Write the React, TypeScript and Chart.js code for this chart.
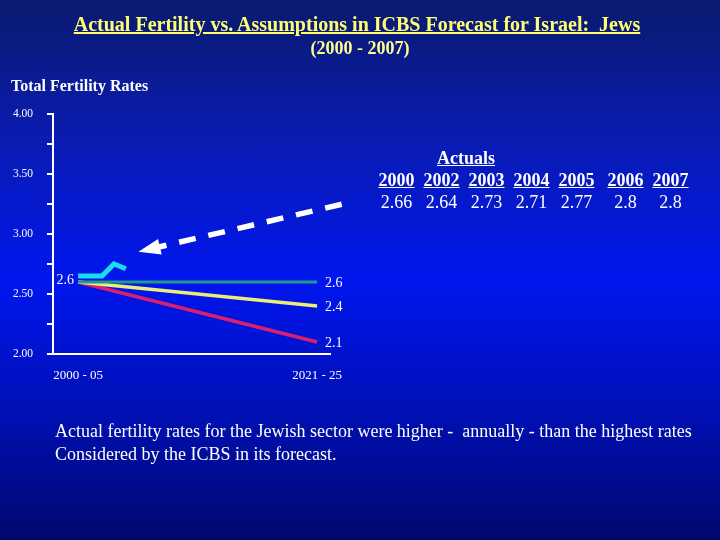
import React, { useEffect, useRef } from "react";
import { Chart, registerables } from "chart.js";

Chart.register(...registerables);

// x positions: 0 = "2000 - 05", 1 = "2021 - 25"
const periodLabels = ["2000 - 05", "2021 - 25"];
const periodX = [0, 1];

const highForecast = [2.6, 2.6];
const mediumForecast = [2.6, 2.4];
const lowForecast = [2.6, 2.1];

// hand-drawn actuals trace at the start of the chart
const actualTraceX = [0, 0.1, 0.15, 0.2];
const actualTraceY = [2.65, 2.65, 2.75, 2.71];

// dashed arrow (from right to left)
const arrowX = [1.103, 0.334];
const arrowY = [3.248, 2.89];

const yTicks = [2.0, 2.5, 3.0, 3.5, 4.0];

const actualYears = ["2000", "2002", "2003", "2004", "2005", "2006", "2007"];
const actualValues = ["2.66", "2.64", "2.73", "2.71", "2.77", "2.8", "2.8"];

const SERIF = '"Liberation Serif", "Times New Roman", serif';

const labelPlugin = {
  id: "endLabels",
  afterDatasetsDraw(chart: Chart) {
    const ctx = chart.ctx;
    ctx.save();
    ctx.font = `14px ${SERIF}`;
    ctx.fillStyle = "#ffffff";
    ctx.textBaseline = "middle";
    // forecast end values
    [1, 2, 3].forEach((i) => {
      const meta = chart.getDatasetMeta(i);
      const last = meta.data[meta.data.length - 1];
      const v = (chart.data.datasets[i].data as any[])[1].y;
      ctx.textAlign = "left";
      ctx.fillText(String(v), last.x + 8, last.y + 1);
    });
    // start value
    const m = chart.getDatasetMeta(1);
    const first = m.data[0];
    const v0 = (chart.data.datasets[1].data as any[])[0].y;
    ctx.textAlign = "right";
    ctx.fillText(String(v0), first.x - 4, first.y - 2);

    // arrow head
    const am = chart.getDatasetMeta(4);
    const p0 = am.data[0];
    const p1 = am.data[1];
    const dx = p1.x - p0.x;
    const dy = p1.y - p0.y;
    const len = Math.hypot(dx, dy);
    const ux = dx / len;
    const uy = dy / len;
    const tipX = p1.x + ux * 20;
    const tipY = p1.y + uy * 20;
    const bx = p1.x - ux * 2;
    const by = p1.y - uy * 2;
    ctx.fillStyle = "#ffffff";
    ctx.beginPath();
    ctx.moveTo(tipX, tipY);
    ctx.lineTo(bx - uy * 8, by + ux * 8);
    ctx.lineTo(bx + uy * 8, by - ux * 8);
    ctx.closePath();
    ctx.fill();
    ctx.restore();
  },
};

const toPoints = (xs: number[], ys: number[]) => xs.map((x, i) => ({ x, y: ys[i] }));

const App: React.FC = () => {
  const canvasRef = useRef<HTMLCanvasElement>(null);

  useEffect(() => {
    if (!canvasRef.current) return;
    const ctx = canvasRef.current.getContext("2d")!;

    const chart = new Chart(ctx, {
      type: "line",
      data: {
        datasets: [
          {
            label: "Actual",
            data: toPoints(actualTraceX, actualTraceY),
            borderColor: "#19dcf0",
            borderWidth: 5,
            pointRadius: 0,
            borderJoinStyle: "miter",
          },
          {
            label: "High",
            data: toPoints(periodX, highForecast),
            borderColor: "#1f9a8c",
            borderWidth: 3,
            pointRadius: 0,
          },
          {
            label: "Medium",
            data: toPoints(periodX, mediumForecast),
            borderColor: "#ecec78",
            borderWidth: 3.5,
            pointRadius: 0,
          },
          {
            label: "Low",
            data: toPoints(periodX, lowForecast),
            borderColor: "#d91f70",
            borderWidth: 3.5,
            pointRadius: 0,
          },
          {
            label: "Arrow",
            data: toPoints(arrowX, arrowY),
            borderColor: "#ffffff",
            borderWidth: 5.5,
            borderDash: [17, 13],
            pointRadius: 0,
            clip: false as any,
          },
        ],
      },
      options: {
        animation: false,
        responsive: true,
        maintainAspectRatio: false,
        layout: { padding: { left: 0, right: 390, top: 114, bottom: 156 } },
        plugins: {
          legend: { display: false },
          tooltip: { enabled: false },
        },
        scales: {
          x: {
            type: "linear",
            min: -0.105,
            max: 1.054,
            afterFit: (scale: any) => {
              scale.height = 30;
            },
            afterBuildTicks: (scale: any) => {
              scale.ticks = periodX.map((v) => ({ value: v }));
            },
            ticks: {
              color: "#ffffff",
              font: { family: SERIF, size: 13 },
              padding: 14,
              maxRotation: 0,
              callback: (v: any) => periodLabels[periodX.indexOf(Number(v))] ?? "",
            },
            grid: { drawOnChartArea: false, drawTicks: false },
            border: { color: "#ffffff", width: 2 },
          },
          y: {
            min: 2,
            max: 4,
            afterFit: (scale: any) => {
              scale.width = 53;
            },
            ticks: {
              stepSize: 0.25,
              color: "#ffffff",
              font: { family: SERIF, size: 11.5 },
              padding: 14,
              callback: (v: any) => (yTicks.includes(Number(v)) ? Number(v).toFixed(2) : ""),
            },
            grid: { drawOnChartArea: false, color: "#ffffff", tickLength: 6, lineWidth: 2 },
            border: { color: "#ffffff", width: 2 },
          },
        },
      },
      plugins: [labelPlugin],
    });

    return () => {
      chart.destroy();
    };
  }, []);

  const abs = (s: React.CSSProperties): React.CSSProperties => ({ position: "absolute", margin: 0, ...s });

  return (
    <div
      style={{
        position: "absolute",
        left: 0,
        top: 0,
        width: 720,
        height: 540,
        overflow: "hidden",
        fontFamily: SERIF,
        background: "linear-gradient(to bottom, #0a1a6e 0%, #0a1cb0 25%, #0016ee 52%, #0010b8 75%, #00086c 100%)",
      }}
    >
      <div style={abs({ left: 0, top: 0, width: 720, height: 540 })}>
        <canvas ref={canvasRef}></canvas>
      </div>
      <div
        style={abs({
          left: 0,
          width: 714,
          top: 11,
          textAlign: "center",
          color: "#ffff70",
          fontWeight: "bold",
          fontSize: 20,
          lineHeight: "26px",
          textDecoration: "underline",
          whiteSpace: "pre",
        })}
      >
        {"Actual Fertility vs. Assumptions in ICBS Forecast for Israel:  Jews"}
      </div>
      <div
        style={abs({
          left: 0,
          width: 720,
          top: 37,
          textAlign: "center",
          color: "#ffff90",
          fontWeight: "bold",
          fontSize: 18,
          lineHeight: "22px",
        })}
      >
        (2000 - 2007)
      </div>
      <div style={abs({ left: 11, top: 76, color: "#ffffff", fontWeight: "bold", fontSize: 16, lineHeight: "20px" })}>
        Total Fertility Rates
      </div>
      <div
        style={abs({
          left: 437,
          top: 147,
          color: "#ffffff",
          fontWeight: "bold",
          fontSize: 18,
          lineHeight: "22px",
          textDecoration: "underline",
        })}
      >
        Actuals
      </div>
      <div style={abs({ left: 374, top: 170, display: "flex", color: "#ffffff" })}>
        {actualYears.map((yr, i) => (
          <div key={yr} style={{ width: 45, marginLeft: i === 5 ? 4 : 0, textAlign: "center" }}>
            <div style={{ fontWeight: "bold", fontSize: 18, textDecoration: "underline", lineHeight: "21px" }}>{yr}</div>
            <div style={{ fontSize: 18, lineHeight: "22px" }}>{actualValues[i]}</div>
          </div>
        ))}
      </div>
      <div style={abs({ left: 55, top: 420, color: "#ffffff", fontSize: 18, lineHeight: "23px", whiteSpace: "pre" })}>
        {"Actual fertility rates for the Jewish sector were higher -  annually - than the highest rates\nConsidered by the ICBS in its forecast."}
      </div>
    </div>
  );
};

export default App;
